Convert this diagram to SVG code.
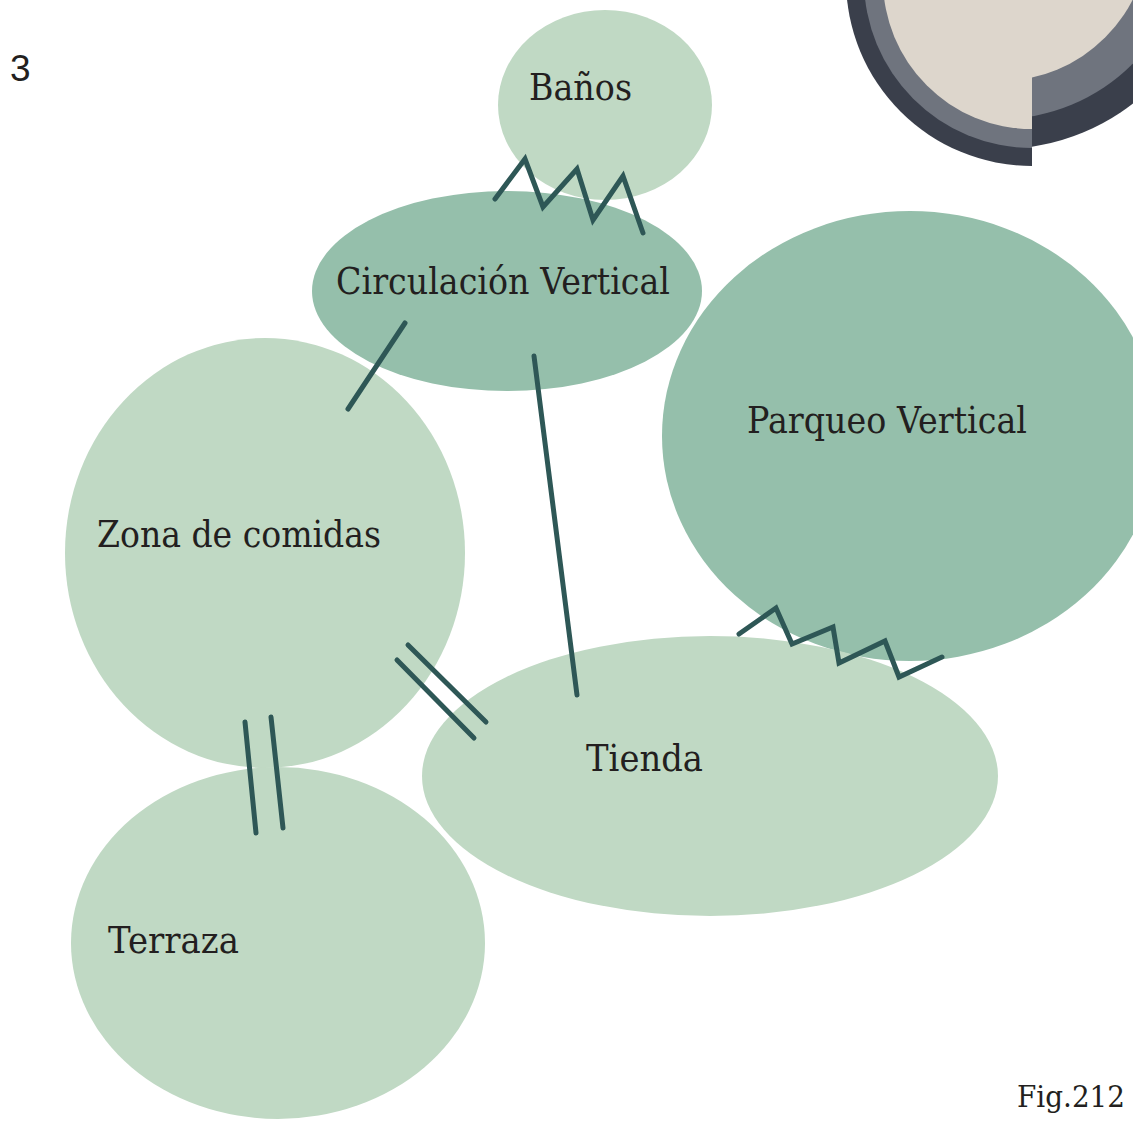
<svg xmlns="http://www.w3.org/2000/svg" width="1133" height="1121" viewBox="0 0 1133 1121">
<style>
.light{fill:#c0d9c4}
.mid{fill:#95bfab}
.lbl{font-family:"DejaVu Serif","Liberation Serif",serif;font-size:37px;fill:#231f20}
.conn{fill:none;stroke:#2e5756;stroke-width:5;stroke-linecap:round;stroke-linejoin:miter}
</style>
<defs>
<clipPath id="cl"><rect x="0" y="0" width="1032" height="200"/></clipPath>
<clipPath id="cr"><rect x="1032" y="0" width="101" height="200"/></clipPath>
</defs>
<rect width="1133" height="1121" fill="#ffffff"/>
<g id="decor">
<g clip-path="url(#cl)">
<circle cx="1032" cy="-20" r="186" fill="#3a3f4b"/>
<circle cx="1032" cy="-20" r="168" fill="#6f747e"/>
<circle cx="1032" cy="-20" r="149" fill="#ddd6cc"/>
</g>
<g clip-path="url(#cr)">
<circle cx="1000" cy="-68" r="217" fill="#3a3f4b"/>
<circle cx="1000" cy="-68" r="187" fill="#6f747e"/>
<circle cx="1000" cy="-68" r="149" fill="#ddd6cc"/>
</g>
</g>
<text x="10" y="81" style="font-family:'Liberation Sans',sans-serif;font-size:37px;fill:#231f20">3</text>
<g id="banos">
<ellipse class="light" cx="605" cy="105" rx="107" ry="95"/>
<text class="lbl" x="529" y="100" textLength="103" lengthAdjust="spacingAndGlyphs">Baños</text>
</g>
<g id="circulacion">
<ellipse class="mid" cx="507" cy="291" rx="195" ry="100"/>
<text class="lbl" x="336" y="294" textLength="334" lengthAdjust="spacingAndGlyphs">Circulación Vertical</text>
</g>
<g id="parqueo">
<ellipse class="mid" cx="910" cy="436" rx="248" ry="225"/>
<text class="lbl" x="747" y="433" textLength="280" lengthAdjust="spacingAndGlyphs">Parqueo Vertical</text>
</g>
<g id="zona">
<ellipse class="light" cx="265" cy="553" rx="200" ry="215"/>
<text class="lbl" x="97" y="547" textLength="284" lengthAdjust="spacingAndGlyphs">Zona de comidas</text>
</g>
<g id="tienda">
<ellipse class="light" cx="710" cy="776" rx="288" ry="140"/>
<text class="lbl" x="586" y="771" textLength="117" lengthAdjust="spacingAndGlyphs">Tienda</text>
</g>
<g id="terraza">
<ellipse class="light" cx="278" cy="943" rx="207" ry="176"/>
<text class="lbl" x="108" y="953" textLength="131" lengthAdjust="spacingAndGlyphs">Terraza</text>
</g>
<g id="connectors">
<polyline class="conn" points="495,199 525,159 543,207 577,169 593,220 623,176 643,233"/>
<polyline class="conn" points="739,634 776,608 792,644 833,627 839,663 885,641 899,677 942,657"/>
<line class="conn" x1="408" y1="645" x2="486" y2="722"/>
<line class="conn" x1="397" y1="660" x2="474" y2="738"/>
<line class="conn" x1="245" y1="722" x2="256" y2="833"/>
<line class="conn" x1="271" y1="717" x2="283" y2="828"/>
<line class="conn" x1="405" y1="323" x2="348" y2="409"/>
<line class="conn" x1="534" y1="356" x2="577" y2="695"/>
</g>
<text x="1017" y="1107" style="font-family:'DejaVu Serif','Liberation Serif',serif;font-size:29px;fill:#231f20" textLength="108" lengthAdjust="spacingAndGlyphs">Fig.212</text>
</svg>
